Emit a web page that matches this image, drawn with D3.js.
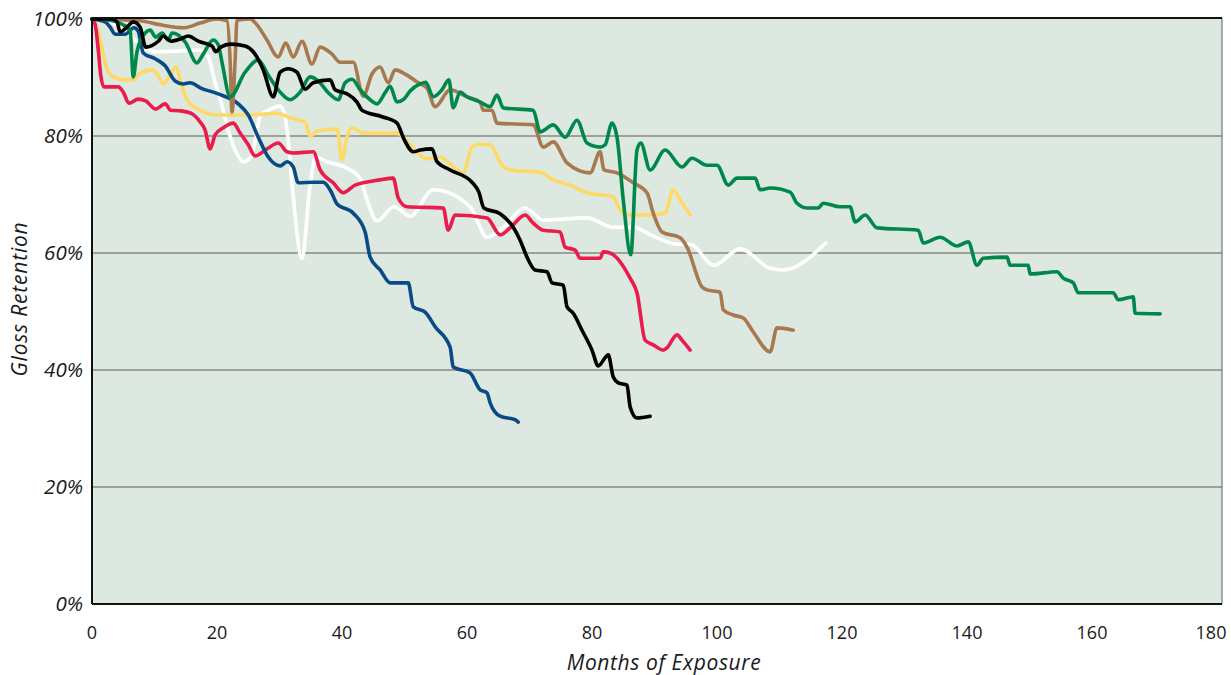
<!DOCTYPE html>
<head>
    <meta charset='utf-8'>
    <style>
        body {
            margin: 0;
            background: #fff;
            font-family: 'Open Sans', 'Noto Sans', sans-serif;
        }
        .ytick, .ylab, .xlab {
            font-style: italic;
        }
    </style>
</head>
<body>
<div id='vis'></div>
<script src='https://d3js.org/d3.v7.min.js'></script>
<script>
  // [months, gloss %]
  const green = [[0,100],[2.9,99.8],[4.8,99.1],[6.1,98.1],[6.6,90.1],[7.2,94.4],[8.5,97.6],[9.3,98.1],[10.2,96.9],[11.2,97.6],[12.2,96.4],[12.8,97.6],[14.9,96.1],[16.8,92.5],[17.8,94.0],[19.4,96.4],[20.2,95.6],[20.8,92.6],[22.1,86.7],[24.5,90.9],[26.6,93.0],[28.2,90.4],[30.1,87.5],[31.7,86.2],[33.3,87.5],[34.9,90.1],[36.2,89.4],[37.8,87.4],[39.4,86.2],[40.5,89.1],[41.6,89.7],[42.9,87.9],[44.5,86.2],[45.6,85.5],[46.9,87.4],[47.7,88.5],[48.8,85.8],[49.9,86.3],[50.9,87.7],[52.5,88.9],[53.4,89.2],[54.6,86.7],[56.0,87.9],[57.1,89.6],[57.8,84.8],[58.9,87.5],[60.0,86.7],[62.1,85.8],[63.7,85.0],[64.8,87.0],[65.8,84.8],[70.6,84.4],[71.7,80.7],[73.8,81.9],[75.7,79.8],[77.6,82.7],[79.2,78.8],[81.3,78.1],[82.1,78.5],[83.2,82.2],[84.0,79.8],[85.0,69.1],[86.2,59.7],[87.2,77.6],[87.8,78.8],[89.3,74.2],[91.7,77.6],[94.4,74.7],[96.0,76.2],[98.4,75.0],[100.0,75.0],[101.8,71.6],[103.2,72.8],[106.1,72.8],[106.9,70.8],[108.5,71.1],[111.7,70.4],[112.8,68.5],[114.4,67.7],[116.2,67.7],[117.0,68.5],[119.7,67.9],[121.3,67.9],[122.1,65.3],[123.7,66.5],[125.6,64.3],[132.2,63.9],[133.0,61.7],[135.7,62.7],[138.4,61.2],[140.2,61.9],[141.6,57.9],[142.6,59.1],[146.4,59.3],[146.9,57.9],[149.8,57.9],[150.1,56.4],[154.4,56.8],[155.4,55.7],[157.0,54.9],[157.8,53.2],[163.4,53.2],[164.2,52.0],[166.6,52.5],[166.9,49.7],[170.9,49.6]]

  const brown = [[0,100],[7.7,99.7],[10.9,99.0],[14.6,98.5],[17.3,99.3],[20.0,100],[21.6,99.7],[22.1,93.0],[22.4,84.1],[22.9,93.0],[23.2,99.8],[25.3,100],[26.4,99.0],[28.0,96.4],[29.8,93.5],[31.0,95.9],[32.2,93.5],[33.6,96.2],[35.2,92.3],[36.5,95.2],[38.4,94.0],[39.7,92.6],[41.8,92.6],[43.4,86.8],[44.8,90.6],[46.1,91.8],[47.4,89.1],[48.5,91.3],[50.4,90.4],[52.2,89.1],[53.6,88.2],[54.9,85.0],[57.3,87.9],[60.0,86.7],[62.1,85.8],[62.6,84.4],[64.0,84.4],[64.8,82.2],[70.6,81.9],[72.2,78.1],[73.8,79.0],[76.0,75.4],[79.7,73.7],[81.3,77.3],[81.9,74.2],[84.0,73.7],[86.6,72.0],[88.8,70.3],[89.8,66.8],[91.2,63.6],[94.1,62.6],[95.2,61.0],[97.6,54.2],[98.4,53.7],[100.5,53.3],[101.0,50.3],[102.6,49.4],[104.2,48.9],[105.8,46.5],[108.5,43.1],[109.6,47.2],[112.2,46.8]]

  const black = [[0,100],[3.2,100],[4.0,99.5],[4.5,97.8],[5.6,98.6],[6.6,99.5],[7.7,98.6],[8.6,95.2],[10.6,96.2],[11.4,97.1],[12.6,96.2],[14.2,96.6],[15.4,97.1],[17.0,96.2],[19.2,95.4],[19.8,94.4],[20.6,95.2],[22.2,95.7],[24.5,95.4],[25.8,94.4],[27.4,91.3],[29.0,86.7],[30.1,90.9],[31.4,91.5],[32.8,90.9],[34.1,88.0],[35.4,89.1],[38.1,89.6],[38.9,87.9],[40.8,87.2],[42.4,85.8],[43.2,84.4],[46.4,83.3],[48.8,82.2],[49.9,79.5],[51.4,77.3],[52.5,77.6],[54.4,77.8],[55.2,75.6],[57.3,74.2],[60.8,72.1],[61.9,70.4],[62.7,67.7],[65.3,66.7],[67.4,64.4],[68.5,62.2],[69.6,59.3],[70.9,57.1],[72.8,56.8],[73.6,54.9],[75.4,54.5],[76.0,50.8],[77.0,49.7],[78.4,46.8],[80.0,43.4],[81.0,40.7],[82.1,42.1],[82.6,42.6],[83.4,38.8],[84.2,37.8],[85.6,37.4],[86.1,33.7],[87.2,31.8],[89.3,32.1]]

  const yellow = [[0,100],[0.6,99.0],[1.3,96.5],[2.2,92.1],[3.4,90.1],[5.3,89.6],[6.6,89.6],[7.7,90.8],[9.8,91.3],[10.6,90.3],[11.4,88.9],[12.5,90.4],[13.4,91.8],[14.4,88.4],[15.2,86.2],[17.3,84.4],[20.0,83.6],[25.8,83.6],[29.6,83.9],[31.7,83.1],[34.1,82.4],[34.9,80.0],[36.2,80.9],[39.2,81.2],[40.0,75.9],[40.8,79.8],[41.6,81.4],[43.4,80.5],[48.8,80.5],[50.2,79.3],[51.4,77.9],[53.6,76.1],[55.7,76.4],[57.3,75.2],[59.4,73.7],[60.8,78.1],[62.1,78.6],[63.7,78.5],[65.6,75.0],[66.9,74.2],[71.7,73.8],[73.8,72.5],[76.5,71.6],[79.2,70.3],[83.4,69.6],[84.2,67.9],[85.3,66.5],[89.3,66.5],[91.7,66.8],[93.0,70.8],[94.1,69.1],[95.7,66.5]]

  const white = [[0,100],[2.9,99.5],[5.3,98.1],[7.7,95.6],[10.1,94.4],[13.3,94.5],[17.3,94.7],[18.6,93.5],[19.7,89.1],[20.6,86.0],[21.8,81.0],[22.9,77.6],[24.2,75.6],[25.3,76.2],[26.1,79.1],[26.9,83.4],[28.2,84.4],[30.1,85.1],[30.7,84.1],[31.4,79.3],[32.0,72.0],[33.6,59.1],[34.9,71.6],[35.8,76.4],[37.6,75.6],[40.8,74.5],[42.9,72.8],[44.0,69.1],[45.6,65.5],[48.3,67.9],[50.9,66.3],[54.6,70.8],[60.5,67.9],[63.2,62.7],[65.8,64.4],[69.3,67.7],[72.2,65.6],[79.2,66.0],[83.4,64.4],[86.6,64.4],[89.8,62.9],[93.6,61.5],[95.7,61.5],[99.5,57.9],[103.7,60.7],[108.5,57.4],[110.6,57.1],[117.4,61.7]]

  const red = [[0,100],[0.5,99.1],[1.0,94.7],[1.4,90.4],[1.9,88.4],[4.2,88.4],[5.0,87.5],[5.9,85.6],[7.4,86.3],[8.6,86.0],[10.2,84.6],[11.7,85.5],[12.6,84.4],[14.2,84.3],[15.8,83.9],[17.3,82.4],[18.1,81.0],[18.9,77.8],[19.7,80.2],[21.0,81.4],[22.6,82.2],[23.7,80.5],[25.0,78.5],[26.1,76.6],[28.0,77.8],[29.8,78.8],[31.2,77.3],[32.2,77.1],[35.4,77.3],[36.5,74.2],[38.6,72.0],[40.2,70.3],[42.1,71.6],[46.1,72.5],[48.2,72.8],[49.0,69.4],[50.4,67.9],[56.2,67.7],[57.0,63.9],[58.1,66.5],[63.2,66.0],[65.3,63.1],[66.9,64.3],[69.3,66.5],[70.6,65.1],[72.2,63.9],[74.9,63.6],[75.7,61.0],[77.3,60.5],[78.1,59.1],[81.3,59.1],[81.8,60.2],[82.9,60.0],[86.1,55.7],[87.2,53.2],[88.5,45.1],[89.8,44.3],[91.4,43.4],[92.0,43.8],[93.6,46.0],[94.4,45.1],[95.7,43.4]]

  const blue = [[0,100],[2.1,99.5],[2.9,98.6],[3.7,97.4],[5.3,97.4],[6.7,98.5],[7.4,97.9],[8.2,94.2],[10.1,93.2],[11.7,92.0],[13.3,89.4],[14.6,88.9],[15.7,89.1],[17.4,88.2],[20.2,87.2],[23.4,85.5],[25.0,83.6],[26.6,79.8],[28.2,76.4],[30.1,74.9],[31.2,75.6],[32.2,74.7],[33.0,72.0],[35.4,72.1],[37.0,72.1],[38.2,70.6],[39.2,68.4],[41.8,66.8],[43.7,63.6],[44.5,59.3],[46.1,57.1],[47.7,54.9],[50.6,54.9],[51.4,50.8],[53.3,49.9],[54.9,47.4],[57.3,43.9],[57.8,40.5],[60.5,39.5],[62.1,36.6],[63.2,36.1],[63.7,34.4],[65.3,32.1],[67.7,31.5],[68.2,31.1]]

  const xTicks = [0, 20, 40, 60, 80, 100, 120, 140, 160, 180]
  const yTicks = [0, 20, 40, 60, 80, 100]
  const gridValues = [20, 40, 60, 80]

  // drawing order, back to front
  const series = [
    {name: 'white', data: white, colour: '#ffffff'},
    {name: 'yellow', data: yellow, colour: '#ffd966'},
    {name: 'red', data: red, colour: '#ea1c4c'},
    {name: 'blue', data: blue, colour: '#0a4a85'},
    {name: 'brown', data: brown, colour: '#a8794f'},
    {name: 'green', data: green, colour: '#00884c'},
    {name: 'black', data: black, colour: '#000000'}
  ]

  const W = 1231, H = 675
  const plot = {left: 92, right: 1222, top: 18, bottom: 604}

  const x = d3.scaleLinear()
    .domain([0, 180.8])
    .range([plot.left, plot.right])

  const y = d3.scaleLinear()
    .domain([0, 100])
    .range([604, 19])

  const svg = d3.select('#vis')
    .append('svg')
    .attr('width', W)
    .attr('height', H)

  // background
  svg.append('rect')
    .attr('x', plot.left)
    .attr('y', plot.top)
    .attr('width', plot.right - plot.left)
    .attr('height', plot.bottom - plot.top)
    .attr('fill', '#dde9e0')

  // gridlines
  svg.append('g')
    .selectAll('line')
    .data(gridValues)
    .enter()
    .append('line')
    .attr('x1', plot.left)
    .attr('x2', plot.right)
    .attr('y1', d => y(d))
    .attr('y2', d => y(d))
    .attr('stroke', '#868986')
    .attr('stroke-width', 1.5)

  // right frame line
  svg.append('line')
    .attr('x1', plot.right).attr('x2', plot.right)
    .attr('y1', plot.top).attr('y2', plot.bottom)
    .attr('stroke', '#777')
    .attr('stroke-width', 1.2)

  const line = d3.line()
    .x(d => x(d[0]))
    .y(d => y(d[1]))
    .curve(d3.curveMonotoneX)

  svg.append('g')
    .selectAll('path')
    .data(series)
    .enter()
    .append('path')
    .attr('d', d => line(d.data))
    .attr('fill', 'none')
    .attr('stroke', d => d.colour)
    .attr('stroke-width', 3.6)
    .attr('stroke-linejoin', 'round')
    .attr('stroke-linecap', 'round')

  // top, left, bottom frame
  svg.append('line')
    .attr('x1', plot.left).attr('x2', plot.right)
    .attr('y1', plot.top).attr('y2', plot.top)
    .attr('stroke', '#111').attr('stroke-width', 2)
  svg.append('line')
    .attr('x1', plot.left).attr('x2', plot.left)
    .attr('y1', plot.top).attr('y2', plot.bottom)
    .attr('stroke', '#111').attr('stroke-width', 2)
  svg.append('line')
    .attr('x1', plot.left).attr('x2', plot.right)
    .attr('y1', plot.bottom).attr('y2', plot.bottom)
    .attr('stroke', '#111').attr('stroke-width', 2)

  // y tick labels
  svg.append('g')
    .selectAll('text')
    .data(yTicks)
    .enter()
    .append('text')
    .attr('class', 'ytick')
    .attr('x', 83)
    .attr('y', d => y(d) + 7)
    .attr('text-anchor', 'end')
    .attr('font-size', 20.5)
    .attr('fill', '#1a1a1a')
    .text(d => d + '%')

  // x tick labels
  svg.append('g')
    .selectAll('text')
    .data(xTicks)
    .enter()
    .append('text')
    .attr('x', d => d === 180 ? x(d) - 6 : x(d))
    .attr('y', 639)
    .attr('text-anchor', 'middle')
    .attr('font-size', 18)
    .attr('fill', '#1a1a1a')
    .text(d => d)

  svg.append('text')
    .attr('class', 'xlab')
    .attr('x', 664)
    .attr('y', 670)
    .attr('text-anchor', 'middle')
    .attr('font-size', 21)
    .attr('letter-spacing', 0.6)
    .attr('fill', '#1a1a1a')
    .text('Months of Exposure')

  svg.append('text')
    .attr('class', 'ylab')
    .attr('transform', 'translate(27, 299) rotate(-90)')
    .attr('text-anchor', 'middle')
    .attr('font-size', 21)
    .attr('letter-spacing', 0.8)
    .attr('fill', '#1a1a1a')
    .text('Gloss Retention')
</script>
</body>
